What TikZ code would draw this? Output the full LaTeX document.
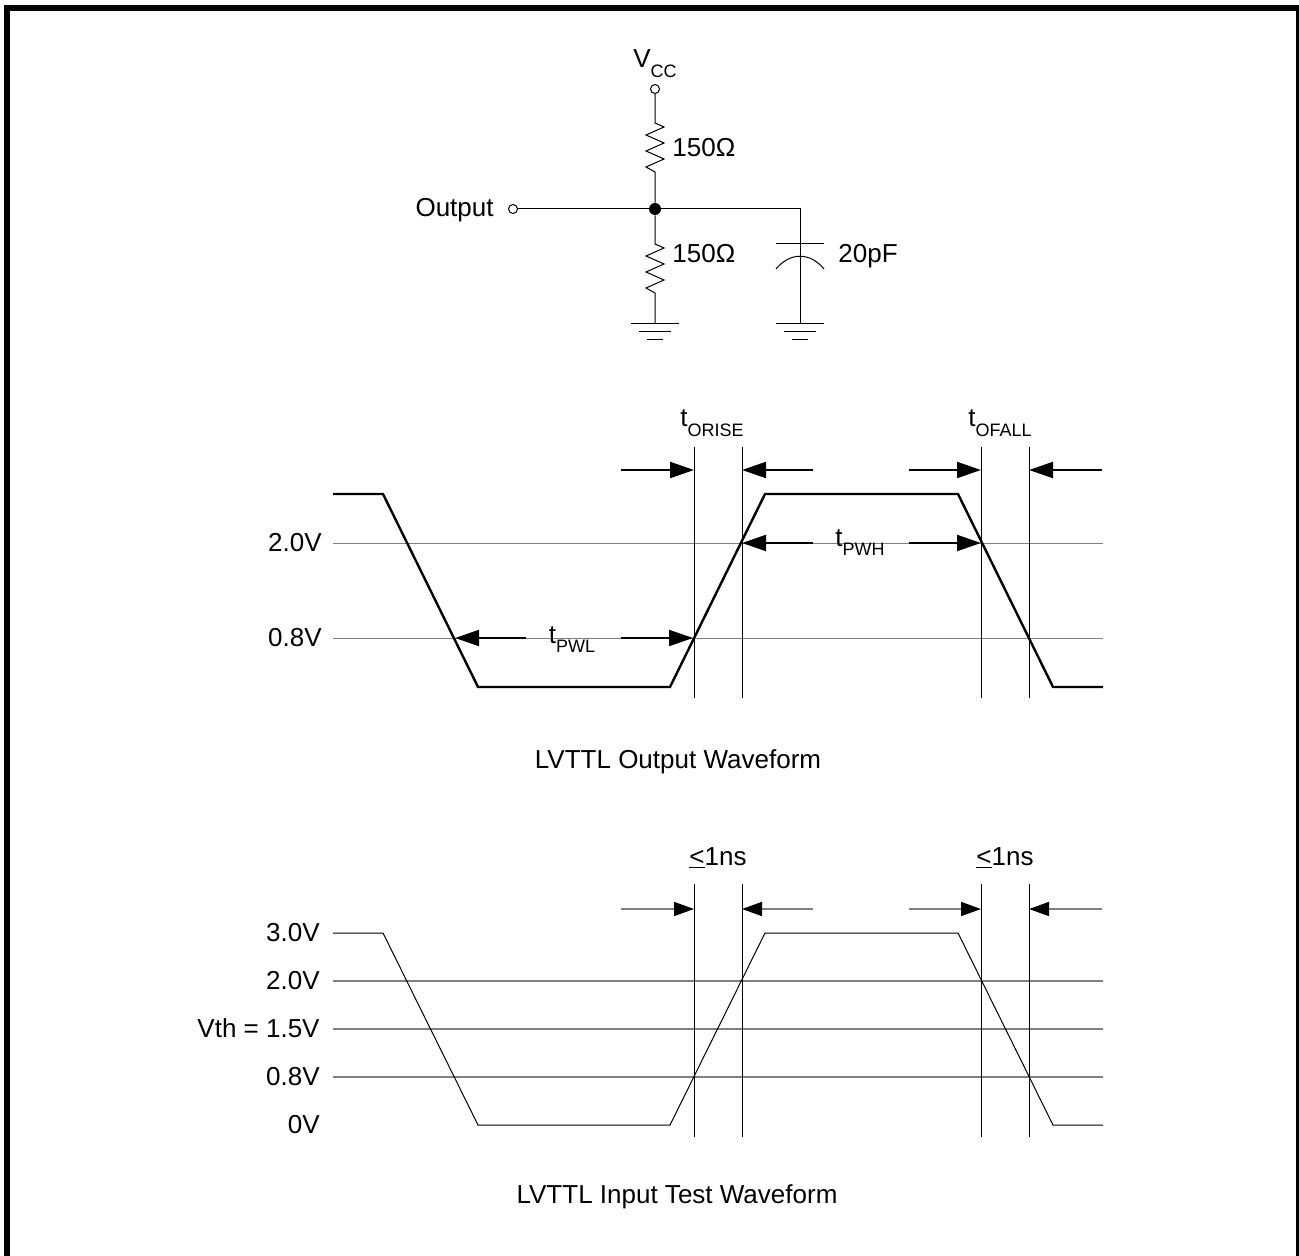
\documentclass[tikz,border=0pt]{standalone}
\usepackage{fontspec}
\setmainfont{Liberation Sans}
\usetikzlibrary{arrows.meta}

\newcommand{\lowsub}[1]{\raisebox{-0.38em}{\fontsize{9}{10}\selectfont #1}}

\begin{document}
\begin{tikzpicture}[x=0.5pt, y=-0.5pt, font=\fontsize{13}{15}\selectfont,
    wave/.style={line width=1.2pt, line join=miter},
    thinwave/.style={line width=0.5pt},
    level/.style={gray, line width=0.5pt},
    inlevel/.style={gray, line width=0.9pt},
    edge/.style={line width=0.5pt},
    dim/.style={line width=1pt, -{Triangle[length=12pt, width=8pt]}},
    thindim/.style={gray, line width=0.8pt, -{Triangle[length=10pt, width=7pt, color=black]}},
    term/.style={circle, draw, fill=white, line width=0.5pt, inner sep=0pt, minimum size=4.5pt},
    junction/.style={circle, fill=black, inner sep=0pt, minimum size=6pt},
    lbl/.style={inner sep=0pt}]
    \useasboundingbox (0,0) rectangle (1299,1256);

    % frame
    \draw[line width=3pt] (7,1262) -- (7,8) -- (1299,8) -- (1299,1262);

    % load circuit
    \node[term, name=vcc] at (655,89) {};
    \node[lbl, anchor=base, name=vcclabel] at (655,68) {V\lowsub{CC}};
    \node[junction, name=mid] at (655,209) {};
    \node[term, name=out] at (513,209) {};
    \node[lbl, anchor=base east, name=outlabel] at (494,217) {Output};
    \coordinate (r1top) at (655,123);
    \coordinate (r1bot) at (655,172);
    \coordinate (r2top) at (655,244);
    \coordinate (r2bot) at (655,293);
    \coordinate (gnda) at (655,324);
    \coordinate (capin) at (800,209);
    \coordinate (captop) at (800,244);
    \coordinate (gndb) at (800,324);

    \draw[edge] (vcc) -- (r1top) -- ++(9,4) -- ++(-18,8) -- ++(18,8) -- ++(-18,8) -- ++(18,8) -- ++(-18,8) -- (r1bot) -- (mid);
    \draw[edge] (mid) -- (r2top) -- ++(9,4) -- ++(-18,8) -- ++(18,8) -- ++(-18,8) -- ++(18,8) -- ++(-18,8) -- (r2bot) -- (gnda);
    \draw[edge] (out) -- (mid) -- (capin) -- (captop) -- (gndb);
    \draw[edge] (captop) ++(-24,0) -- ++(48,0);
    \draw[edge] (776,269) .. controls (790,252) and (810,252) .. (824,269);
    \foreach \g in {gnda, gndb} {
        \draw[edge] (\g) ++(-24,0) -- ++(48,0);
        \draw[edge] (\g) ++(-16,8) -- ++(32,0);
        \draw[edge] (\g) ++(-8,16) -- ++(16,0);
    }
    \node[lbl, anchor=base west, name=r1val] at (672,157) {150Ω};
    \node[lbl, anchor=base west, name=r2val] at (672,263) {150Ω};
    \node[lbl, anchor=base west, name=capval] at (838,263) {20pF};

    % output waveform
    \draw[level] (333,543) -- (1103,543);
    \draw[level] (333,638) -- (1103,638);
    \draw[wave] (333,494) -- (383,494) -- (478,687) -- (670,687) -- (765,494) -- (958,494) -- (1053,687) -- (1103,687);
    \foreach \x in {694,742,981,1029}
        \draw[edge] (\x,447) -- (\x,698);
    \foreach \tx/\hx/\y [count=\i] in {621/694/470, 813/742/470, 909/981/470, 1102/1029/470, 813/742/543, 909/981/543, 526/455/638, 621/693/638} {
        \coordinate (otail\i) at (\tx,\y);
        \coordinate (ohead\i) at (\hx,\y);
        \draw[dim] (otail\i) -- (ohead\i);
    }
    \node[lbl, anchor=base east, name=ohigh] at (322,551) {2.0V};
    \node[lbl, anchor=base east, name=olow] at (322,646) {0.8V};
    \node[lbl, anchor=base, name=orise] at (712,427) {t\lowsub{ORISE}};
    \node[lbl, anchor=base, name=ofall] at (1000,427) {t\lowsub{OFALL}};
    \node[lbl, anchor=base, name=pwh] at (860,546) {t\lowsub{PWH}};
    \node[lbl, anchor=base, name=pwl] at (572,643) {t\lowsub{PWL}};
    \node[lbl, anchor=base, name=otitle] at (678,768) {LVTTL Output Waveform};

    % input test waveform
    \draw[inlevel] (333,981) -- (1103,981);
    \draw[inlevel] (333,1029) -- (1103,1029);
    \draw[inlevel] (333,1077) -- (1103,1077);
    \draw[thinwave] (333,933) -- (383,933) -- (478,1125) -- (670,1125) -- (765,933) -- (958,933) -- (1053,1125) -- (1103,1125);
    \foreach \x in {694,742,981,1029}
        \draw[edge] (\x,884) -- (\x,1137);
    \foreach \tx/\hx [count=\i] in {621/694, 813/742, 909/981, 1102/1029} {
        \coordinate (itail\i) at (\tx,909);
        \coordinate (ihead\i) at (\hx,909);
        \draw[thindim] (itail\i) -- (ihead\i);
    }
    \node[lbl, anchor=base east, name=ithree] at (320,941) {3.0V};
    \node[lbl, anchor=base east, name=itwo] at (320,989) {2.0V};
    \node[lbl, anchor=base east, name=ivth] at (320,1037) {Vth = 1.5V};
    \node[lbl, anchor=base east, name=ieight] at (320,1085) {0.8V};
    \node[lbl, anchor=base east, name=izero] at (320,1133) {0V};
    \node[lbl, anchor=base, name=irise] at (718,865) {\underline{<}1ns};
    \node[lbl, anchor=base, name=ifall] at (1005,865) {\underline{<}1ns};
    \node[lbl, anchor=base, name=ititle] at (677,1203) {LVTTL Input Test Waveform};
\end{tikzpicture}
\end{document}
